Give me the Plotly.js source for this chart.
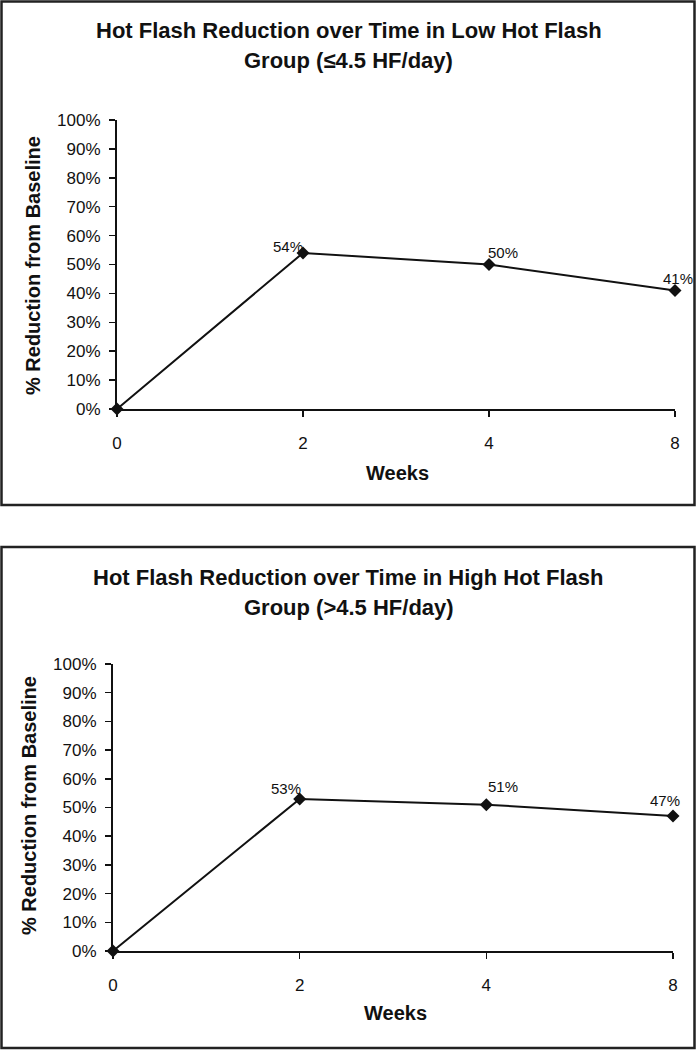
<!DOCTYPE html>
<html>
<head>
<meta charset="utf-8">
<script src="https://cdn.plot.ly/plotly-3.0.1.min.js"></script>
<style>html,body{margin:0;padding:0;background:#fff;}#chart{width:696px;height:1050px;}</style>
</head>
<body>
<div id="chart"></div>
<script>
// ---- data ----
const weeks = ['0', '2', '4', '8'];
const lowGroup = [0, 0.54, 0.50, 0.41];
const highGroup = [0, 0.53, 0.51, 0.47];
const lowLabels = ['', '54%', '50%', '41%'];
const highLabels = ['', '53%', '51%', '47%'];
const lowTitle = ['Hot Flash Reduction over Time in Low Hot Flash', 'Group (\u22644.5 HF/day)'];
const highTitle = ['Hot Flash Reduction over Time in High Hot Flash', 'Group (>4.5 HF/day)'];
const xTitle = 'Weeks';
const yTitle = '% Reduction from Baseline';

// label offsets (px) relative to their points
const lowShift = [[0,0], [-15, 6], [14, 12], [3, 12]];
const highShift = [[0,0], [-14, 10], [17, 18], [-8, 16]];

const W = 696, H = 1050;
const FONT = 'Liberation Sans, Arial, sans-serif';
const px = v => v / W;
const py = v => 1 - v / H;

function lineTrace(y, xa, ya) {
  return {
    x: weeks, y: y, xaxis: xa, yaxis: ya, type: 'scatter', mode: 'lines+markers',
    line: {color: '#111', width: 2},
    marker: {symbol: 'diamond', size: 10, color: '#111'},
    cliponaxis: false, hoverinfo: 'skip', showlegend: false
  };
}

function xAxis(domain, anchor) {
  return {
    domain: domain, anchor: anchor, type: 'category', range: [0, 3],
    showline: true, linecolor: '#111', linewidth: 2, mirror: false,
    ticks: 'outside', ticklen: 6, tickwidth: 1.5, tickcolor: '#111',
    showgrid: false, zeroline: false, ticklabelstandoff: 12,
    tickfont: {family: FONT, size: 17, color: '#111'}, fixedrange: true
  };
}
function yAxis(domain, anchor) {
  return {
    domain: domain, anchor: anchor, range: [0, 1], dtick: 0.1, tick0: 0,
    tickformat: '.0%', showline: true, linecolor: '#111', linewidth: 2,
    ticks: 'outside', ticklen: 6, tickwidth: 1.5, tickcolor: '#111',
    showgrid: false, zeroline: false, ticklabelstandoff: 5,
    tickfont: {family: FONT, size: 17, color: '#111'}, fixedrange: true
  };
}

const annotations = [];
function addLabels(values, labels, shifts, xref, yref) {
  values.forEach((v, i) => {
    if (!labels[i]) return;
    annotations.push({
      x: weeks.indexOf(weeks[i]), y: v, xref: xref, yref: yref, text: labels[i], showarrow: false,
      xanchor: 'center', yanchor: 'middle', xshift: shifts[i][0], yshift: shifts[i][1],
      font: {family: FONT, size: 15, color: '#111'}
    });
  });
}
addLabels(lowGroup, lowLabels, lowShift, 'x', 'y');
addLabels(highGroup, highLabels, highShift, 'x2', 'y2');

function text(t, x, y, size, bold, angle) {
  annotations.push({
    xref: 'paper', yref: 'paper', x: px(x), y: py(y), text: bold ? '<b>' + t + '</b>' : t,
    showarrow: false, xanchor: 'center', yanchor: 'middle', textangle: angle || 0,
    font: {family: FONT, size: size, color: '#111'}
  });
}
text(lowTitle[0], 349, 31, 22, true);
text(lowTitle[1], 349, 61, 22, true);
text(highTitle[0], 349, 577, 22, true);
text(highTitle[1], 349, 607, 22, true);
text(xTitle, 397, 473, 20, true);
text(xTitle, 395, 1013, 20, true);
text(yTitle, 33, 266, 20, true, -90);
text(yTitle, 29, 806, 20, true, -90);

const layout = {
  width: W, height: H, margin: {l: 0, r: 0, t: 0, b: 0},
  paper_bgcolor: '#fff', plot_bgcolor: 'rgba(0,0,0,0)', showlegend: false,
  xaxis: xAxis([px(117), px(675)], 'y'),
  yaxis: yAxis([py(409), py(120)], 'x'),
  xaxis2: xAxis([px(113), px(673)], 'y2'),
  yaxis2: yAxis([py(951), py(664)], 'x2'),
  annotations: annotations,
  shapes: [
    {type: 'rect', xref: 'paper', yref: 'paper', x0: px(1.5), x1: px(694.5), y0: py(505), y1: py(1.5), line: {color: '#222', width: 2.5}},
    {type: 'rect', xref: 'paper', yref: 'paper', x0: px(1.5), x1: px(694.5), y0: py(1048), y1: py(547), line: {color: '#222', width: 2.5}}
  ]
};

Plotly.newPlot('chart', [lineTrace(lowGroup, 'x', 'y'), lineTrace(highGroup, 'x2', 'y2')], layout, {staticPlot: true});
</script>
</body>
</html>
